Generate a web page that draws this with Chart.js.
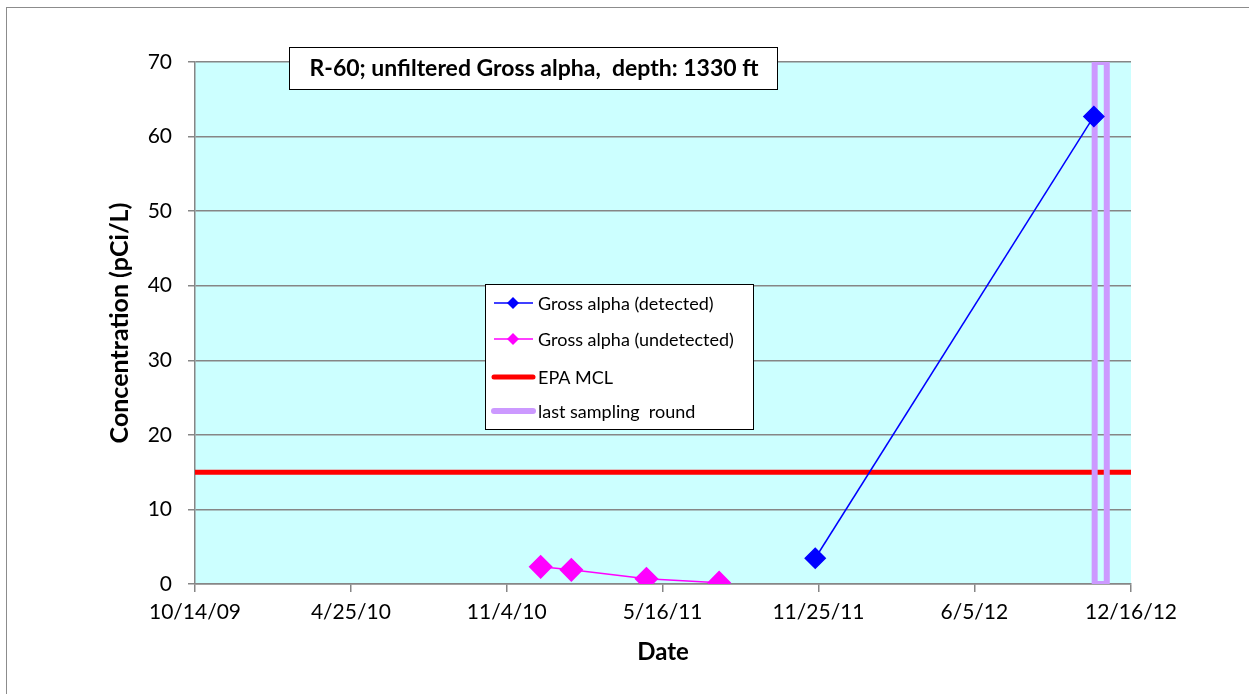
<!DOCTYPE html>
<html>
<head>
<meta charset="utf-8">
<script src="https://cdn.jsdelivr.net/npm/chart.js@4.4.1/dist/chart.umd.min.js"></script>
<style>
  html, body { margin: 0; padding: 0; background: #fff; }
</style>
</head>
<body>
<canvas id="chart" width="1249" height="694"></canvas>
<script>
const tickLabels = ['10/14/09', '4/25/10', '11/4/10', '5/16/11', '11/25/11', '6/5/12', '12/16/12'];

const detectedDates = ['11/21/11', '10/31/12'];
const detectedValues = [3.45, 62.7];

const undetectedDates = ['12/16/10', '1/23/11', '4/26/11', '7/25/11'];
const undetectedValues = [2.3, 1.9, 0.7, 0.18];

const mclDates = ['10/14/09', '12/16/12'];
const mclValues = [15, 15];

// drawn as a closed outline around the last sampling round
const lastRoundDates = ['11/1/12', '11/1/12', '11/16/12', '11/16/12', '11/1/12'];
const lastRoundValues = [0, 70, 70, 0, 0];

const titleText = 'R-60; unfiltered Gross alpha,  depth: 1330 ft';

// M/D/YY -> day number
const toDay = (s) => {
  const [m, d, y] = s.split('/').map(Number);
  return Date.UTC(2000 + y, m - 1, d) / 86400000;
};
const toPoints = (dates, values) => dates.map((d, i) => ({ x: toDay(d), y: values[i] }));

const FONT = 'Lato';

const detected = {
  label: 'Gross alpha (detected)',
  data: toPoints(detectedDates, detectedValues),
  borderColor: '#0000ff',
  backgroundColor: '#0000ff',
  borderWidth: 1.5,
  pointStyle: 'rectRot',
  pointRadius: 10,
  order: 0
};
const undetected = {
  label: 'Gross alpha (undetected)',
  data: toPoints(undetectedDates, undetectedValues),
  borderColor: '#ff00ff',
  backgroundColor: '#ff00ff',
  borderWidth: 1.5,
  pointStyle: 'rectRot',
  pointRadius: 11,
  order: 1
};
const mcl = {
  label: 'EPA MCL',
  data: toPoints(mclDates, mclValues),
  borderColor: '#ff0000',
  borderWidth: 5,
  pointRadius: 0,
  order: 3
};
const lastRound = {
  label: 'last sampling  round',
  data: toPoints(lastRoundDates, lastRoundValues),
  borderColor: '#cc99ff',
  borderWidth: 6,
  pointRadius: 0,
  borderJoinStyle: 'miter',
  order: 2
};

const decorations = {
  id: 'decorations',
  beforeDraw(chart) {
    const { ctx, chartArea: a } = chart;
    ctx.save();
    ctx.fillStyle = '#ccffff';
    ctx.fillRect(a.left, a.top, a.right - a.left, a.bottom - a.top);
    // outer frame
    ctx.strokeStyle = '#8c8c8c';
    ctx.lineWidth = 1;
    ctx.strokeRect(6.5, 7.5, 1260, 700);
    ctx.restore();
  },
  afterDraw(chart) {
    const { ctx } = chart;
    ctx.save();
    // title box
    ctx.fillStyle = '#fff';
    ctx.fillRect(289, 47, 488, 42);
    ctx.strokeStyle = '#000';
    ctx.lineWidth = 1;
    ctx.strokeRect(289.5, 47.5, 488, 42);
    ctx.fillStyle = '#000';
    ctx.font = 'bold 23px ' + FONT;
    ctx.textAlign = 'center';
    ctx.textBaseline = 'middle';
    ctx.fillText(titleText, 534, 69);

    // legend box
    ctx.fillStyle = '#fff';
    ctx.fillRect(485, 284, 268, 145);
    ctx.strokeRect(485.5, 284.5, 268, 145);
    const entries = [detected, undetected, mcl, lastRound];
    const rows = [303, 339, 377, 411];
    ctx.font = '18px ' + FONT;
    ctx.textAlign = 'left';
    entries.forEach((ds, i) => {
      const y = rows[i];
      ctx.strokeStyle = ds.borderColor;
      ctx.lineWidth = ds.borderWidth;
      ctx.lineCap = ds.borderWidth > 3 ? 'round' : 'butt';
      ctx.beginPath();
      ctx.moveTo(494, y);
      ctx.lineTo(533, y);
      ctx.stroke();
      if (ds.pointRadius > 0) {
        ctx.fillStyle = ds.backgroundColor;
        ctx.beginPath();
        ctx.moveTo(507, y);
        ctx.lineTo(513, y - 6);
        ctx.lineTo(519, y);
        ctx.lineTo(513, y + 6);
        ctx.closePath();
        ctx.fill();
      }
      ctx.fillStyle = '#000';
      ctx.fillText(ds.label, 538, y + 1);
    });
    ctx.restore();
  }
};

new Chart(document.getElementById('chart'), {
  type: 'line',
  data: { datasets: [detected, undetected, lastRound, mcl] },
  plugins: [decorations],
  options: {
    responsive: false,
    animation: false,
    devicePixelRatio: 1,
    layout: { padding: { top: 62, right: 118, left: 0, bottom: 0 } },
    plugins: { legend: { display: false }, tooltip: { enabled: false } },
    scales: {
      x: {
        type: 'linear',
        min: toDay(tickLabels[0]),
        max: toDay(tickLabels[tickLabels.length - 1]),
        afterBuildTicks: (scale) => {
          scale.ticks = tickLabels.map((t) => ({ value: toDay(t) }));
        },
        afterFit: (scale) => { scale.height = 110; },
        ticks: {
          callback: (v, i) => tickLabels[i],
          color: '#000',
          font: { family: FONT, size: 21 },
          padding: 8,
          maxRotation: 0,
          autoSkip: false
        },
        grid: { drawOnChartArea: false, tickLength: 8, color: '#868686', lineWidth: 1.5 },
        border: { color: '#868686', width: 1.5 },
        title: {
          display: true,
          text: 'Date',
          color: '#000',
          font: { family: FONT, size: 24, weight: 'bold' },
          padding: { top: 0, bottom: 27 }
        }
      },
      y: {
        min: 0,
        max: 70,
        afterFit: (scale) => { scale.width = 195; },
        ticks: {
          stepSize: 10,
          color: '#000',
          font: { family: FONT, size: 21 },
          padding: 16
        },
        grid: { color: '#868686', lineWidth: 1.5, tickLength: 7 },
        border: { color: '#868686', width: 1.5 },
        title: {
          display: true,
          text: 'Concentration (pCi/L)',
          color: '#000',
          font: { family: FONT, size: 25, weight: 'bold' },
          padding: { top: 105, bottom: 0 }
        }
      }
    }
  }
});
</script>
</body>
</html>
